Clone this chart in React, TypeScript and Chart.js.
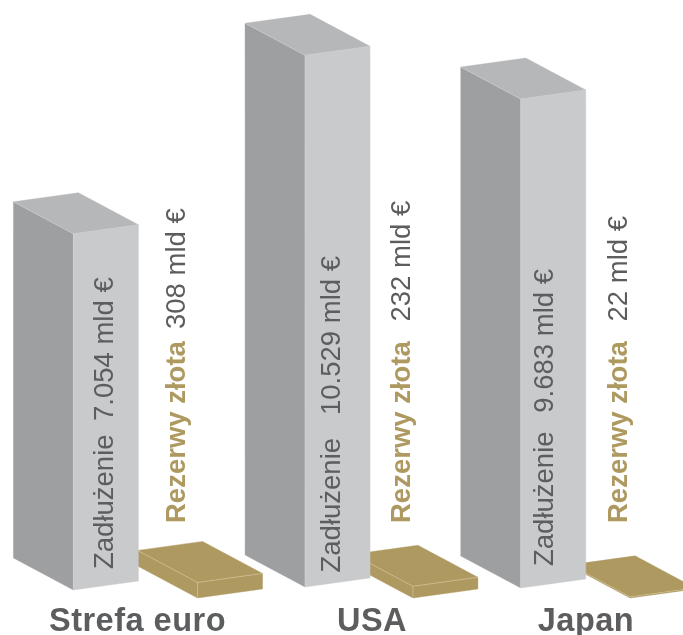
import React, { useEffect, useRef } from "react";
import { Chart, registerables } from "chart.js";

Chart.register(...registerables);

const categories = ["Strefa euro", "USA", "Japan"];
const debtValues = [7054, 10529, 9683];
const goldValues = [308, 232, 22];
const debtWord = "Zadłużenie";
const goldWord = "Rezerwy złota";
const unit = "mld €";

const GREY_TEXT = "#5c5d5f";
const GOLD = "#ae9960";
const FONT = '"Liberation Sans", Arial, sans-serif';
const SKEW_X = 65;
const SKEW_Y = 9;
const DEPTH_X = 60;
const DEPTH_Y = 32;

const debtShiftX = [49, 53, 41];
const debtLift = [8, 11, 10];
const goldShiftX = [59.3, 47, 36.5];
const labelCentres = [137.5, 372, 586];
const debtTextX = [112.5, 340, 553];
const debtWordY = [569, 572.5, 566];
const debtValueY = [421, 415, 412.7];
const goldTextX = [185, 410, 627];
const goldWordY = 523;
const goldValueY = [329, 321.5, 321.5];

const fmt = (v: number) => String(v).replace(/\B(?=(\d{3})+$)/g, ".");

function poly(ctx: CanvasRenderingContext2D, pts: number[][], fill: string) {
  ctx.beginPath();
  pts.forEach((p, i) => (i ? ctx.lineTo(p[0], p[1]) : ctx.moveTo(p[0], p[1])));
  ctx.closePath();
  ctx.fillStyle = fill;
  ctx.fill();
  ctx.strokeStyle = fill;
  ctx.lineWidth = 0.4;
  ctx.stroke();
}
function edge(ctx: CanvasRenderingContext2D, a: number[], b: number[], stroke: string) {
  ctx.beginPath();
  ctx.moveTo(a[0], a[1]);
  ctx.lineTo(b[0], b[1]);
  ctx.strokeStyle = stroke;
  ctx.lineWidth = 0.6;
  ctx.stroke();
}

function drawPrism(
  ctx: CanvasRenderingContext2D,
  L: number,
  T: number,
  B: number,
  cols: { left: string; front: string; top: string; edge: string }
) {
  const fb = [L, B];
  const ft = [L, T];
  const rb = [L + SKEW_X, B - SKEW_Y];
  const rt = [L + SKEW_X, T - SKEW_Y];
  const lb = [L - DEPTH_X, B - DEPTH_Y];
  const lt = [L - DEPTH_X, T - DEPTH_Y];
  const bk = [L + SKEW_X - DEPTH_X, T - SKEW_Y - DEPTH_Y];
  poly(ctx, [lb, fb, ft, lt], cols.left);
  poly(ctx, [fb, rb, rt, ft], cols.front);
  poly(ctx, [lt, ft, rt, bk], cols.top);
  edge(ctx, lt, ft, cols.edge);
  edge(ctx, ft, rt, cols.edge);
  edge(ctx, ft, fb, cols.edge);
}

const prismPlugin = {
  id: "prism",
  beforeDatasetDraw(chart: any, args: any) {
    const ctx = chart.ctx as CanvasRenderingContext2D;
    const i = args.index;
    const meta = chart.getDatasetMeta(i);
    meta.data.forEach((bar: any, j: number) => {
      const w = SKEW_X;
      if (i === 0) {
        const L = bar.x + debtShiftX[j] - w / 2;
        drawPrism(ctx, L, bar.y - debtLift[j], bar.base - debtLift[j], {
          left: "#9e9fa1",
          front: "#c9cacc",
          top: "#b6b7b9",
          edge: "rgba(225,226,228,0.55)",
        });
      } else {
        const L = bar.x + goldShiftX[j] - w / 2;
        drawPrism(ctx, L, bar.y, bar.base, {
          left: GOLD,
          front: GOLD,
          top: GOLD,
          edge: "rgba(238,228,198,0.6)",
        });
      }
    });
    return false;
  },
  afterDraw(chart: any) {
    const ctx = chart.ctx as CanvasRenderingContext2D;
    const vertical = (text: string, x: number, y: number, font: string, color: string) => {
      ctx.save();
      ctx.translate(x, y);
      ctx.rotate(-Math.PI / 2);
      ctx.font = font;
      ctx.fillStyle = color;
      ctx.textAlign = "left";
      ctx.textBaseline = "alphabetic";
      ctx.fillText(text, 0, 0);
      ctx.restore();
    };
    const regular = `27.5px ${FONT}`;
    const bold = `bold 27.5px ${FONT}`;
    categories.forEach((name, i) => {
      vertical(debtWord, debtTextX[i], debtWordY[i], regular, GREY_TEXT);
      vertical(`${fmt(debtValues[i])} ${unit}`, debtTextX[i], debtValueY[i], regular, GREY_TEXT);
      vertical(goldWord, goldTextX[i], goldWordY, bold, GOLD);
      vertical(`${goldValues[i]} ${unit}`, goldTextX[i], goldValueY[i], regular, GREY_TEXT);
      ctx.save();
      ctx.font = `bold 32.5px ${FONT}`;
      (ctx as any).letterSpacing = "0.5px";
      ctx.fillStyle = GREY_TEXT;
      ctx.textAlign = "center";
      ctx.textBaseline = "alphabetic";
      ctx.fillText(name, labelCentres[i], 630.5);
      ctx.restore();
    });
  },
};

export default function App() {
  const ref = useRef<HTMLCanvasElement | null>(null);
  useEffect(() => {
    if (!ref.current) return;
    const chart = new Chart(ref.current, {
      type: "bar",
      data: {
        labels: categories,
        datasets: [
          { label: debtWord, data: debtValues, backgroundColor: "#c9cacc" },
          { label: goldWord, data: goldValues, backgroundColor: GOLD },
        ],
      },
      options: {
        responsive: false,
        animation: false,
        devicePixelRatio: 1,
        layout: { padding: 0 },
        datasets: { bar: { categoryPercentage: 1, barPercentage: 0.571 } },
        plugins: { legend: { display: false }, title: { display: false }, tooltip: { enabled: false } },
        scales: {
          x: { display: false },
          y: { display: false, min: -733, max: 11842 },
        },
      },
      plugins: [prismPlugin],
    } as any);
    return () => chart.destroy();
  }, []);
  return (
    <div style={{ position: "fixed", left: 0, top: 0, width: 683, height: 635, background: "#fff" }}>
      <canvas ref={ref} width={683} height={635} style={{ display: "block" }} />
    </div>
  );
}
